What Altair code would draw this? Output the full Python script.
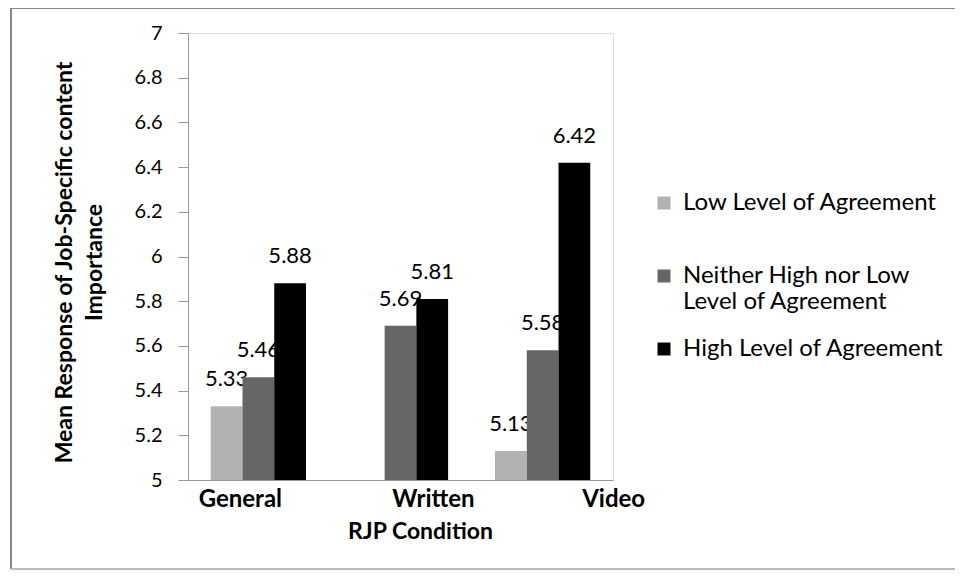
import altair as alt
import pandas as pd

conditions = ["General", "Written", "Video"]
series = ["Low Level of Agreement", "Neither High nor Low Level of Agreement", "High Level of Agreement"]
low_vals = [5.33, None, 5.13]
neither_vals = [5.46, 5.69, 5.58]
high_vals = [5.88, 5.81, 6.42]
colors = ["#b2b2b2", "#666666", "#000000"]
y_ticks = [5, 5.2, 5.4, 5.6, 5.8, 6, 6.2, 6.4, 6.6, 6.8, 7]

rows = []
for s, vals in zip(series, [low_vals, neither_vals, high_vals]):
    for c, v in zip(conditions, vals):
        if v is not None:
            rows.append({"condition": c, "series": s, "value": v})
df = pd.DataFrame(rows)

FONT = "Lato"

x_enc = alt.X(
    "condition:N",
    sort=conditions,
    scale=alt.Scale(paddingInner=0.33, paddingOuter=0.16),
    axis=alt.Axis(
        title="RJP Condition",
        labelAngle=0,
        labelFont=FONT,
        labelFontWeight="bold",
        labelFontSize=24,
        labelColor="#000",
        labelPadding=7,
        labelOffset=alt.ExprRef("datum.value == 'General' ? -18 : datum.value == 'Written' ? 33 : 71"),
        ticks=False,
        domainColor="#999",
        titleFont=FONT,
        titleFontWeight="bold",
        titleFontSize=23,
        titleColor="#000",
        titleX=232,
        titleY=51,
        titleAlign="center",
        titleBaseline="middle",
    ),
)
xoff_enc = alt.XOffset("series:N", sort=series, scale=alt.Scale(domain=series, paddingInner=0, paddingOuter=0))
y_enc = alt.Y(
    "value:Q",
    scale=alt.Scale(domain=[5, 7], zero=False, nice=False),
    axis=alt.Axis(
        title=["Mean Response of Job-Specific content", "Importance"],
        values=y_ticks,
        format=".1~f",
        grid=False,
        labelFont=FONT,
        labelFontSize=20,
        labelColor="#000",
        labelPadding=16,
        tickSize=10,
        tickColor="#999",
        domainColor="#999",
        titleFont=FONT,
        titleFontWeight="bold",
        titleFontSize=23,
        titleColor="#000",
        titleLineHeight=30,
        titleAngle=-90,
        titleX=-124,
        titleY=229,
        titleAlign="center",
        titleBaseline="middle",
    ),
)
color_enc = alt.Color(
    "series:N",
    sort=series,
    scale=alt.Scale(domain=series, range=colors),
    legend=alt.Legend(
        title=None,
        orient="none",
        legendX=464,
        legendY=158,
        symbolType="square",
        symbolSize=169,
        symbolStrokeWidth=0,
        labelFont=FONT,
        labelFontSize=24,
        labelColor="#000",
        labelOffset=7,
        labelLimit=400,
        rowPadding=23,
        padding=0,
        labelExpr="datum.label == 'Neither High nor Low Level of Agreement' ? ['Neither High nor Low', 'Level of Agreement'] : datum.label == 'Low Level of Agreement' ? ['Low Level of Agreement', ''] : datum.label",
    ),
)

base = alt.Chart(df)
layers = []
for s in series:
    sub = base.transform_filter(alt.datum.series == s)
    layers.append(
        sub.mark_bar().encode(x=x_enc, xOffset=xoff_enc, y=y_enc, y2=alt.datum(5), color=color_enc)
    )
    layers.append(
        sub.mark_text(baseline="bottom", dy=-15, font=FONT, fontSize=22, color="#000").encode(
            x=x_enc, xOffset=xoff_enc, y=y_enc, text=alt.Text("value:Q", format=".2f")
        )
    )

one = pd.DataFrame({"a": [0]})
frame_left = alt.Chart(one).mark_rule(stroke="#888", strokeWidth=2).encode(
    x=alt.value(-177), y=alt.value(-25), y2=alt.value(536)
)
frame_top = alt.Chart(one).mark_rule(stroke="#888", strokeWidth=2).encode(
    x=alt.value(-177), x2=alt.value(820), y=alt.value(-25)
)
frame_bottom = alt.Chart(one).mark_rule(stroke="#bbb", strokeWidth=2).encode(
    x=alt.value(-177), x2=alt.value(820), y=alt.value(536)
)

chart = alt.layer(frame_left, frame_top, frame_bottom, *layers).properties(
    width=425,
    height=447,
    autosize=alt.AutoSizeParams(type="none"),
    padding={"left": 180, "top": 25, "right": 342, "bottom": 91},
).configure_view(stroke="#999", strokeWidth=1).configure(background="white")

chart.save("out.html", embed_options={"renderer": "svg", "actions": False})
